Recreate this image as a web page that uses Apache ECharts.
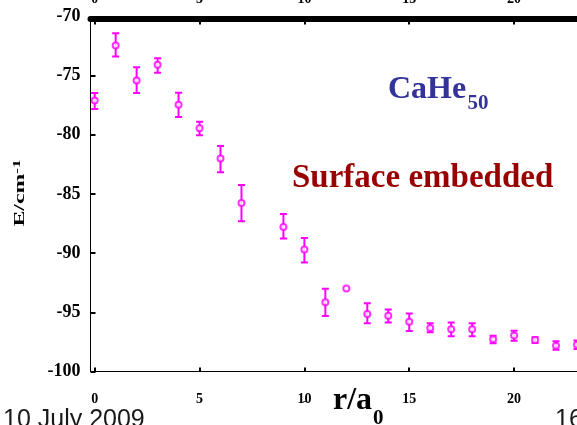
<!DOCTYPE html>
<html>
<head>
<meta charset="utf-8">
<script src="https://cdn.jsdelivr.net/npm/echarts@6/dist/echarts.min.js"></script>
<style>
html,body{margin:0;padding:0;background:#fff;}
#chart{width:577px;height:425px;}
</style>
</head>
<body>
<div id="chart"></div>
<script>
// r/a0 positions
const rValues = [0,1,2,3,4,5,6,7,9,10,11,12,13,14,15,16,17,18,19,20,21,22,23];
// energies E/cm^-1
const energies = [-77.09,-72.45,-75.40,-74.08,-77.45,-79.45,-82.01,-85.76,-87.78,-89.69,-94.14,-92.98,-95.15,-95.29,-95.80,-96.33,-96.44,-96.44,-97.28,-96.95,-97.34,-97.82,-97.74];
// error bar bounds (null = no bar)
const errHigh = [-76.47,-71.41,-74.28,-73.52,-76.44,-78.90,-80.95,-84.24,-86.68,-88.71,-93.01,null,-94.24,-94.75,-95.09,-95.93,-95.85,-95.93,-96.98,-96.56,-97.11,-97.45,-97.37];
const errLow  = [-77.82,-73.38,-76.47,-74.75,-78.50,-80.04,-83.16,-87.30,-88.76,-90.78,-95.32,null,-95.93,-95.85,-96.58,-96.69,-97.03,-97.03,-97.62,-97.40,-97.59,-98.16,-98.10];
const xTicks = [0,5,10,15,20];

const MAG = '#ff00ff';
const chart = echarts.init(document.getElementById('chart'), null, {renderer:'canvas'});

const pointData = rValues.map((r,i)=>[r, energies[i]]);
const errData = [];
rValues.forEach((r,i)=>{ if(errHigh[i]!==null) errData.push([r, errLow[i], errHigh[i]]); });

const labelFont = {fontFamily:'Liberation Serif', fontWeight:'bold', color:'#000'};

chart.setOption({
  animation:false,
  backgroundColor:'#fff',
  grid:{left:90.5, right:0, top:16.5, bottom:53.5, containLabel:false, outerBoundsMode:'none'},
  xAxis:[{
    type:'value', position:'bottom', min:-0.2, max:23,
    axisLine:{show:true, onZero:false, lineStyle:{color:'#000', width:1}},
    axisTick:{show:true, inside:true, length:4, lineStyle:{color:'#000', width:2}, customValues:xTicks},
    axisLabel:Object.assign({fontSize:14, margin:21, customValues:xTicks}, labelFont),
    splitLine:{show:false}
  },{
    type:'value', position:'top', min:-0.2, max:23, offset:-2,
    axisLine:{show:true, onZero:false, lineStyle:{color:'#000', width:6}},
    axisTick:{show:true, inside:true, length:6, lineStyle:{color:'#000', width:2}, customValues:xTicks},
    axisLabel:Object.assign({fontSize:14, margin:12, customValues:xTicks}, labelFont),
    splitLine:{show:false}
  }],
  yAxis:{
    type:'value', min:-100, max:-70, interval:5,
    axisLine:{show:true, onZero:false, lineStyle:{color:'#000', width:1}},
    axisTick:{show:true, inside:true, length:5, lineStyle:{color:'#000', width:2}},
    axisLabel:Object.assign({fontSize:18, margin:10}, labelFont),
    splitLine:{show:false}
  },
  series:[{
    type:'custom',
    xAxisIndex:0,
    data:errData,
    encode:{x:0, y:[1,2]},
    z:2,
    clip:true,
    renderItem:function(params, api){
      const x = api.value(0), lo = api.value(1), hi = api.value(2);
      const pHi = api.coord([x, hi]);
      const pLo = api.coord([x, lo]);
      const w = 3.5;
      const st = {stroke:MAG, lineWidth:2};
      return {type:'group', children:[
        {type:'line', shape:{x1:pHi[0], y1:pHi[1], x2:pLo[0], y2:pLo[1]}, style:st},
        {type:'line', shape:{x1:pHi[0]-w, y1:pHi[1], x2:pHi[0]+w, y2:pHi[1]}, style:st},
        {type:'line', shape:{x1:pLo[0]-w, y1:pLo[1], x2:pLo[0]+w, y2:pLo[1]}, style:st}
      ]};
    }
  },{
    type:'scatter',
    xAxisIndex:0,
    data:pointData,
    symbol:'emptyCircle',
    symbolSize:6,
    z:3,
    itemStyle:{color:MAG, borderColor:MAG, borderWidth:2}
  }],
  graphic:[
    {type:'text', x:20, y:193, rotation:Math.PI/2, scaleX:1.7, scaleY:1,
      style:{text:'{a|E/cm}{b|-1}', align:'center', verticalAlign:'middle',
        rich:{a:{font:'bold 14px "Liberation Serif"', fill:'#000'},
              b:{font:'bold 10px "Liberation Serif"', fill:'#000', verticalAlign:'top', padding:[0,0,6,0]}}}},
    {type:'text', left:388, top:74, style:{text:'CaHe', font:'bold 32px "Liberation Serif"', fill:'#333399'}},
    {type:'text', left:467.5, top:93, style:{text:'50', font:'bold 21px "Liberation Serif"', fill:'#333399'}},
    {type:'text', left:292, top:162, style:{text:'Surface embedded', font:'bold 33px "Liberation Serif"', fill:'#990000'}},
    {type:'text', left:333, top:385, style:{text:'r/a', font:'bold 32px "Liberation Serif"', fill:'#000'}},
    {type:'text', left:373, top:408, style:{text:'0', font:'bold 21px "Liberation Serif"', fill:'#000'}},
    {type:'text', left:303, top:396, style:{text:'-', font:'bold 10px "Liberation Serif"', fill:'#000'}},
    {type:'text', left:3, top:408, style:{text:'10 July 2009', font:'25px "Liberation Sans"', fill:'#1a1a1a'}},
    {type:'text', left:555, top:408, style:{text:'16', font:'25px "Liberation Sans"', fill:'#1a1a1a'}}
  ]
});
</script>
</body>
</html>
